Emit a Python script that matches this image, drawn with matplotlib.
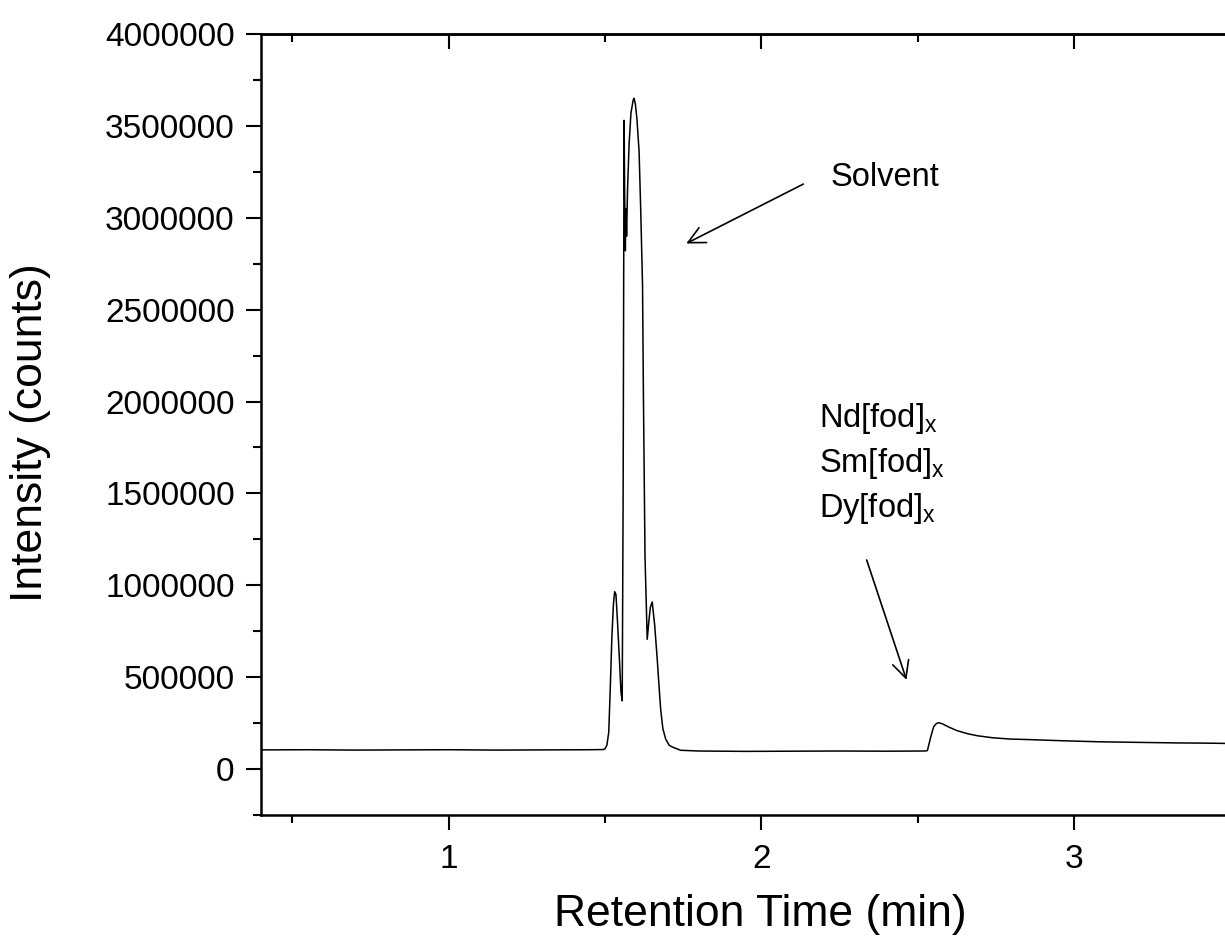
import matplotlib
matplotlib.use("Agg")
import matplotlib.pyplot as plt
from matplotlib.ticker import MultipleLocator, FixedLocator

# ---- data ----
time_min = [
    0.40, 0.55, 0.70, 0.85, 1.00, 1.15, 1.30, 1.45, 1.495,
    1.500, 1.506, 1.512, 1.517, 1.522, 1.527, 1.531, 1.535, 1.540, 1.546, 1.551, 1.555,
    1.558, 1.561, 1.563, 1.565, 1.567, 1.569, 1.572, 1.577, 1.583, 1.590, 1.593, 1.597,
    1.602, 1.609, 1.614, 1.620, 1.623, 1.628, 1.635, 1.640, 1.645, 1.651, 1.659, 1.667,
    1.672, 1.678, 1.685, 1.694, 1.705, 1.715, 1.742,
    1.80, 1.95, 2.10, 2.25, 2.40, 2.52, 2.531,
    2.541, 2.551, 2.560, 2.568, 2.580, 2.600, 2.627, 2.660, 2.691, 2.740, 2.797,
    2.860, 2.925, 3.000, 3.085, 3.165, 3.245, 3.330, 3.410, 3.500,
]
intensity = [
    104000, 105000, 103000, 104000, 105000, 103000, 104000, 105000, 106000,
    110000, 130000, 200000, 450000, 720000, 900000, 965000, 950000, 800000, 600000, 420000, 371000,
    1500000, 3530000, 3100000, 2820000, 3050000, 2900000, 3150000, 3400000, 3570000, 3640000, 3650000, 3620000,
    3540000, 3360000, 3054000, 2636000, 2000000, 1150000, 706000, 800000, 880000, 909000, 780000, 598000,
    470000, 326000, 220000, 163000, 130000, 120000, 102000,
    98000, 96000, 97000, 98000, 97000, 98000, 100000,
    170000, 230000, 248000, 252000, 245000, 228000, 208000, 192000, 181000, 170000, 163000,
    160000, 156000, 152000, 148000, 146000, 144000, 142000, 141000, 139000,
]

x_major = [1, 2, 3]
y_major = [0, 500000, 1000000, 1500000, 2000000, 2500000, 3000000, 3500000, 4000000]
y_labels = [str(v) for v in y_major]

plt.rcParams['font.family'] = ['Liberation Sans', 'DejaVu Sans']
plt.rcParams['mathtext.default'] = 'regular'

fig = plt.figure(figsize=(12.25, 9.39), dpi=100)
ax = fig.add_axes([0.2131, 0.1321, 0.7913, 0.8317])

ax.plot(time_min, intensity, color='black', lw=1.1)

ax.set_xlim(0.4, 3.5)
ax.set_ylim(-250000, 4000000)

ax.xaxis.set_major_locator(FixedLocator(x_major))
ax.xaxis.set_minor_locator(MultipleLocator(0.5))
ax.yaxis.set_major_locator(FixedLocator(y_major))
ax.set_yticklabels(y_labels)
ax.yaxis.set_minor_locator(MultipleLocator(250000))

for s in ['left', 'bottom', 'top']:
    ax.spines[s].set_linewidth(1.8)
ax.spines['right'].set_visible(False)

ax.tick_params(axis='both', which='major', direction='out', length=11, width=1.5,
               labelsize=24, pad=8)
ax.tick_params(axis='both', which='minor', direction='out', length=5.5, width=1.5)
ax.tick_params(axis='x', which='major', pad=10)

# top axis with inward ticks, no labels
sec = ax.secondary_xaxis('top')
sec.xaxis.set_major_locator(FixedLocator(x_major))
sec.xaxis.set_minor_locator(MultipleLocator(0.5))
sec.tick_params(which='major', direction='in', length=11, width=1.5, labeltop=False)
sec.tick_params(which='minor', direction='in', length=5.5, width=1.5)
sec.spines['top'].set_linewidth(1.8)

ax.set_xlabel('Retention Time (min)', fontsize=32)
ax.set_ylabel('Intensity (counts)', fontsize=32)
ax.xaxis.set_label_coords(0.515, -0.128)
ax.yaxis.set_label_coords(-0.238, 0.49)
ax.xaxis.label.set_va('center')
ax.yaxis.label.set_va('center')

# annotations
ax.annotate('', xy=(1.752, 2853000), xytext=(2.142, 3190000),
            arrowprops=dict(arrowstyle='->', lw=1.2, color='black', mutation_scale=30))
ax.text(2.222, 3217000, 'Solvent', fontsize=23.5, ha='left', va='center')

ax.text(2.183, 1859000, 'Nd[fod]$_\\mathregular{x}$', fontsize=23.5, ha='left', va='baseline')
ax.text(2.183, 1614000, 'Sm[fod]$_\\mathregular{x}$', fontsize=23.5, ha='left', va='baseline')
ax.text(2.183, 1370000, 'Dy[fod]$_\\mathregular{x}$', fontsize=23.5, ha='left', va='baseline')
ax.annotate('', xy=(2.467, 471000), xytext=(2.334, 1152000),
            arrowprops=dict(arrowstyle='->', lw=1.2, color='black', mutation_scale=30))

fig.savefig('out.png', dpi=100)
